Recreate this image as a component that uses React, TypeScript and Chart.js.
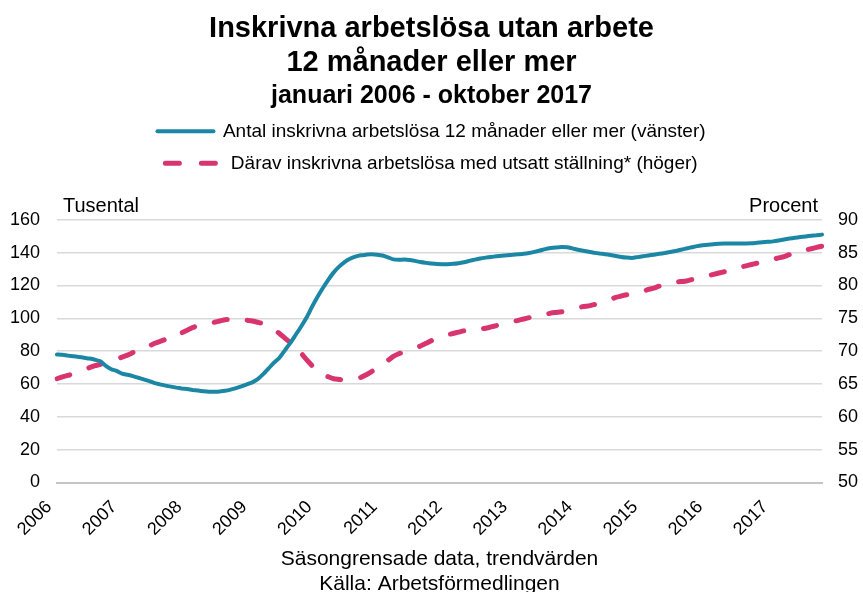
import React, { useEffect, useRef } from 'react';
import { Chart, registerables, layouts } from 'chart.js';

Chart.register(...registerables);

// ---------- data ----------
const years = ['2006', '2007', '2008', '2009', '2010', '2011', '2012', '2013', '2014', '2015', '2016', '2017'];
const monthNums = ['01', '02', '03', '04', '05', '06', '07', '08', '09', '10', '11', '12'];
const monthsInLastYear = 10; // januari 2006 - oktober 2017

const categories: string[] = [];
years.forEach((y, yi) => {
  monthNums.forEach((m, mi) => {
    if (yi < years.length - 1 || mi < monthsInLastYear) categories.push(`${y}-${m}`);
  });
});

// Antal inskrivna arbetslösa 12 månader eller mer, tusental (vänster axel)
const longTermUnemployed = [
  78.0, 77.8, 77.3, 76.9, 76.5, 76.0, 75.5, 74.8, 73.8, 71.0, 69.0, 68.0,
  66.3, 65.6, 64.8, 63.8, 62.8, 61.8, 60.5, 59.8, 59.0, 58.4, 57.8, 57.3,
  56.9, 56.4, 56.0, 55.6, 55.3, 55.3, 55.5, 55.9, 56.6, 57.5, 58.6, 59.8,
  61.0, 63.0, 66.0, 69.5, 73.0, 76.0, 80.5, 85.0, 90.0, 95.0, 100.5, 107.0,
  113.0, 118.5, 123.5, 128.0, 131.5, 134.3, 136.3, 137.6, 138.4, 138.8, 139.1, 138.8,
  138.3, 137.2, 135.9, 135.7, 135.8, 135.6, 135.0, 134.3, 133.8, 133.4, 133.1, 133.0,
  133.0, 133.2, 133.6, 134.2, 135.0, 135.8, 136.5, 137.0, 137.4, 137.8, 138.2, 138.5,
  138.7, 139.0, 139.3, 139.8, 140.5, 141.3, 142.2, 142.8, 143.2, 143.5, 143.3, 142.6,
  141.8, 141.2, 140.6, 140.0, 139.5, 139.1, 138.6, 138.0, 137.4, 137.0, 136.8, 137.3,
  137.8, 138.3, 138.8, 139.3, 139.8, 140.4, 141.0, 141.8, 142.6, 143.3, 144.0, 144.5,
  144.9, 145.2, 145.5, 145.6, 145.6, 145.6, 145.6, 145.6, 145.7, 146.0, 146.3, 146.6,
  146.9, 147.4, 148.0, 148.6, 149.1, 149.5, 149.9, 150.3, 150.6, 151.0,
];

// Därav med utsatt ställning, procent (höger axel)
const vulnerableShare = [
  65.8, 66.1, 66.3, 66.6, 66.9, 67.2, 67.5, 67.8, 68.0, 68.3, 68.5, 68.8,
  69.1, 69.4, 69.8, 70.2, 70.5, 70.8, 71.2, 71.5, 71.8, 72.1, 72.4, 72.8,
  73.2, 73.6, 73.9, 74.1, 74.2, 74.4, 74.6, 74.8, 74.8, 74.8, 74.8, 74.7,
  74.6, 74.4, 74.2, 73.8, 73.3, 72.7, 72.0, 71.3, 70.5, 69.7, 68.7, 67.8,
  67.0, 66.5, 66.1, 65.8, 65.7, 65.6, 65.7, 65.8, 66.0, 66.4, 66.9, 67.4,
  68.0, 68.6, 69.2, 69.6, 69.9, 70.2, 70.5, 70.8, 71.2, 71.6, 71.9, 72.2,
  72.5, 72.7, 72.9, 73.1, 73.2, 73.3, 73.4, 73.5, 73.7, 73.9, 74.1, 74.3,
  74.5, 74.7, 74.9, 75.1, 75.3, 75.5, 75.6, 75.8, 75.9, 76.0, 76.2, 76.4,
  76.6, 76.8, 76.9, 77.1, 77.3, 77.6, 77.9, 78.2, 78.4, 78.6, 78.7, 78.9,
  79.1, 79.4, 79.6, 79.9, 80.1, 80.3, 80.5, 80.6, 80.7, 80.9, 81.1, 81.3,
  81.5, 81.7, 81.9, 82.1, 82.3, 82.6, 82.8, 83.0, 83.2, 83.4, 83.6, 83.8,
  84.0, 84.2, 84.4, 84.7, 84.9, 85.1, 85.4, 85.6, 85.8, 86.0,
];

const titleLines = ['Inskrivna arbetslösa utan arbete', '12 månader eller mer'];
const subtitleText = 'januari 2006 - oktober 2017';
const seriesLabels = [
  'Antal inskrivna arbetslösa 12 månader eller mer (vänster)',
  'Därav inskrivna arbetslösa med utsatt ställning* (höger)',
];
const leftAxisTitle = 'Tusental';
const rightAxisTitle = 'Procent';
const footerLines = ['Säsongrensade data, trendvärden', 'Källa: Arbetsförmedlingen'];

// ---------- styles ----------
const FONT = "'Liberation Sans', Arial, Helvetica, sans-serif";
const TEAL = '#1B87A5';
const PINK = '#D8356F';

Chart.defaults.font.family = FONT;
Chart.defaults.color = '#000';

// Layout box between legend and plot, carrying the horizontal axis captions
const axisCaptionPlugin = {
  id: 'axisCaptions',
  beforeInit(chart: any) {
    const box: any = {
      options: {},
      position: 'top',
      weight: 10,
      fullSize: true,
      left: 0, top: 0, right: 0, bottom: 0, width: 0, height: 0,
      isHorizontal() { return true; },
      update(maxWidth: number) { this.width = maxWidth; this.height = 37; },
      draw() {
        const ctx = chart.ctx;
        const area = chart.chartArea;
        ctx.save();
        ctx.font = `20px ${FONT}`;
        ctx.fillStyle = '#000';
        ctx.textBaseline = 'alphabetic';
        ctx.textAlign = 'left';
        ctx.fillText(leftAxisTitle, area.left + 6, this.bottom - 8);
        ctx.textAlign = 'right';
        ctx.fillText(rightAxisTitle, area.right - 4, this.bottom - 8);
        ctx.restore();
      },
    };
    layouts.addBox(chart, box);
  },
};

export default function App() {
  const canvasRef = useRef<HTMLCanvasElement>(null);

  useEffect(() => {
    document.body.style.margin = '0';
    const canvas = canvasRef.current;
    if (!canvas) return;

    const chart = new Chart(canvas, {
      type: 'line',
      data: {
        labels: categories,
        datasets: [
          {
            label: seriesLabels[0],
            data: longTermUnemployed,
            yAxisID: 'y',
            borderColor: TEAL,
            backgroundColor: TEAL,
            borderWidth: 4,
            borderCapStyle: 'round',
            borderJoinStyle: 'round',
            pointRadius: 0,
            tension: 0.2,
          },
          {
            label: seriesLabels[1],
            data: vulnerableShare,
            yAxisID: 'y1',
            borderColor: PINK,
            backgroundColor: PINK,
            borderWidth: 5,
            borderDash: [13.5, 20],
            borderCapStyle: 'round',
            pointRadius: 0,
            tension: 0.2,
          },
        ],
      },
      options: {
        animation: false,
        responsive: false,
        maintainAspectRatio: false,
        layout: { padding: 0 },
        plugins: {
          tooltip: { enabled: false },
          title: {
            display: true,
            text: titleLines,
            color: '#000',
            font: { size: 29, weight: 'bold', lineHeight: 1.17 },
            padding: { top: 12, bottom: 0 },
          },
          subtitle: {
            display: true,
            text: subtitleText,
            color: '#000',
            font: { size: 25, weight: 'bold', lineHeight: 1 },
            padding: { top: 4, bottom: 0 },
          },
          legend: {
            display: true,
            position: 'top',
            labels: {
              usePointStyle: true,
              pointStyle: 'line',
              pointStyleWidth: 56,
              padding: 13,
              color: '#000',
              font: { size: 19 },
              generateLabels: (c: any) =>
                c.data.datasets.map((ds: any, i: number) => ({
                  text: ds.label,
                  fillStyle: ds.borderColor,
                  strokeStyle: ds.borderColor,
                  fontColor: '#000',
                  lineWidth: ds.borderWidth,
                  lineDash: i === 1 ? [14, 22] : [],
                  lineCap: 'round',
                  pointStyle: 'line',
                  hidden: false,
                  datasetIndex: i,
                })),
            },
          },
        },
        scales: {
          x: {
            type: 'category',
            offset: false,
            grid: { display: false, drawTicks: false },
            border: { display: true, color: '#c4c4c4', width: 2 },
            ticks: {
              autoSkip: false,
              minRotation: 45,
              maxRotation: 45,
              padding: 14,
              labelOffset: -8,
              color: '#000',
              font: { size: 18 },
              callback: function (this: any, value: any) {
                const lab = String(this.getLabelForValue(value));
                return lab.endsWith('-01') ? lab.slice(0, 4) : null;
              },
            },
            title: {
              display: true,
              text: footerLines,
              color: '#000',
              font: { size: 21, lineHeight: 1.2 },
              padding: { top: 0, bottom: -5 },
            },
            afterFit: (s: any) => { s.height = 109.5; },
          },
          y: {
            position: 'left',
            min: 0,
            max: 160,
            ticks: { stepSize: 20, padding: 17, color: '#000', font: { size: 18 } },
            grid: { color: '#d9d9d9', lineWidth: 1.5, drawTicks: false },
            border: { display: false },
            afterFit: (s: any) => { s.width = 57; },
          },
          y1: {
            position: 'right',
            min: 50,
            max: 90,
            ticks: { stepSize: 5, padding: 16, color: '#000', font: { size: 18 } },
            grid: { display: false, drawTicks: false },
            border: { display: false },
            afterFit: (s: any) => { s.width = 41; },
          },
        },
      },
      plugins: [axisCaptionPlugin],
    } as any);

    return () => chart.destroy();
  }, []);

  return (
    <div style={{ width: 863, height: 592 }}>
      <canvas ref={canvasRef} width={863} height={592} style={{ display: 'block' }} />
    </div>
  );
}
